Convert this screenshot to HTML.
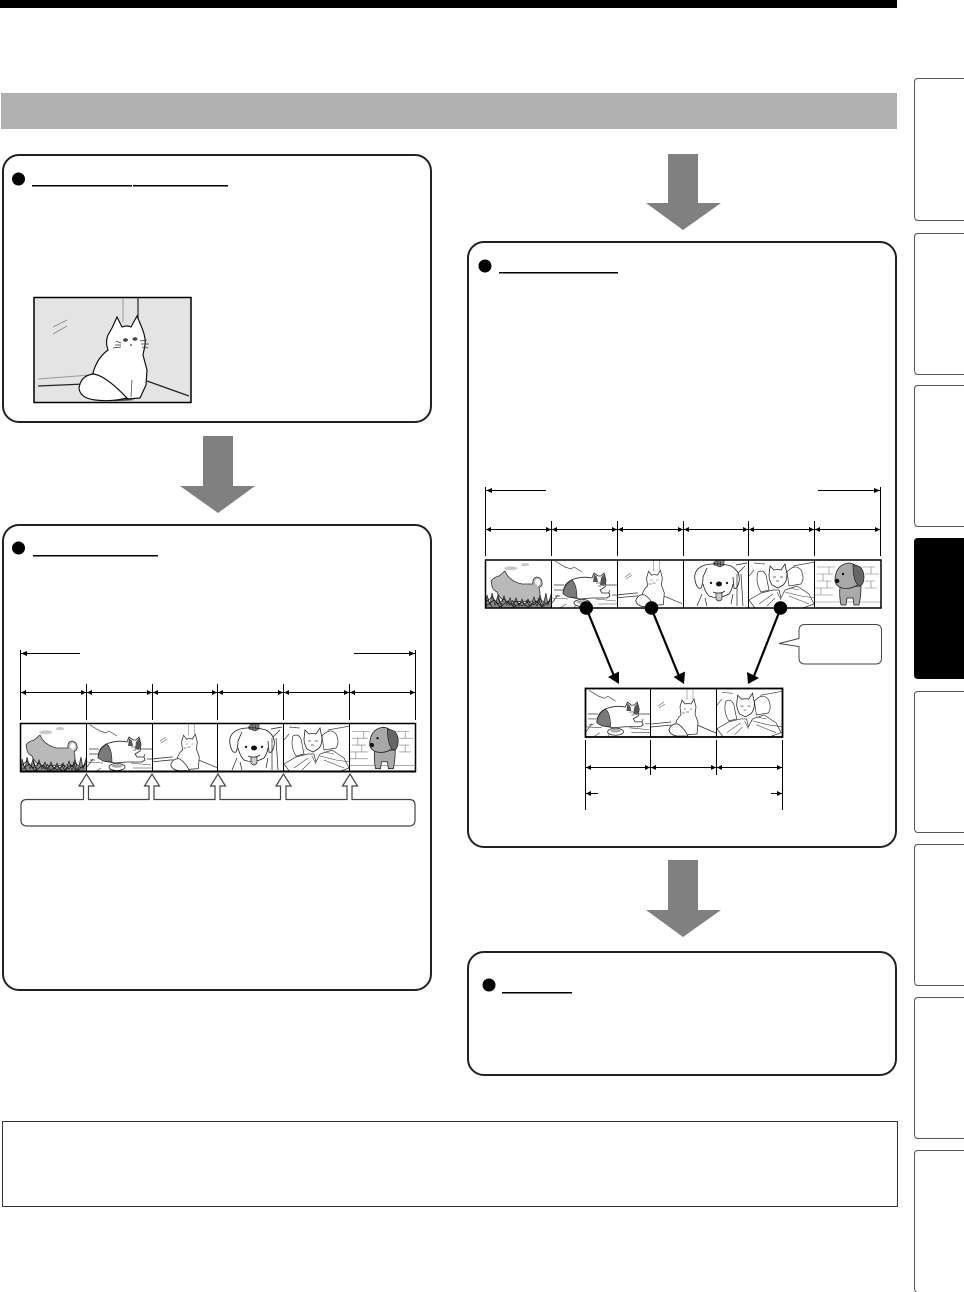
<!DOCTYPE html>
<html><head><meta charset="utf-8"><title>Diagram</title>
<style>html,body{margin:0;padding:0;background:#fff}svg{display:block}</style></head>
<body>
<svg xmlns="http://www.w3.org/2000/svg" width="964" height="1292" viewBox="0 0 964 1292">
<defs>
<symbol id="dog1" viewBox="0 0 66 48">
<path d="M18 8q5-3 12-1q3 2-2 3q-9 1-10-2zM35 4q4-2 8 0q1 2-3 2q-5 1-5-2z" fill="#c8c8c8"/>
<path d="M5 21Q8 17 13 16L19 11L21 15Q26 22 36 24L47 24Q46 18 51 17Q57 18 56 25L53 28Q55 34 53 41L20 42Q13 38 11 32Q6 29 6 26Z" fill="#b9b9b9" stroke="#333" stroke-width=".8"/>
<path d="M49 23Q49 19 52 19Q55 20 54 24L52 26Z" fill="#fff"/>
<path d="M0 48L1 35L4 45L6 33L9 45L12 35L15 45L18 36L21 45L24 38L27 46L30 38L33 46L36 39L39 46L42 39L45 46L48 37L51 46L54 35L57 46L60 33L62 45L66 31V48Z" fill="#888" stroke="#222" stroke-width=".7"/>
<path d="M0 42L6 37L12 44L18 39L24 45L30 41L36 46L42 41L48 45L54 39L60 44L66 38M0 46L8 40L14 47L22 41L28 47L36 42L42 47L50 41L56 47L64 41M2 40L6 47M12 38L16 47M26 40L30 47M40 40L44 47M52 38L56 47" fill="none" stroke="#111" stroke-width=".7"/>
</symbol>
<symbol id="cat2" viewBox="0 0 66 48">
<path d="M3 1L13 7L19 9L22 7L30 12" fill="none" stroke="#444" stroke-width=".7"/>
<path d="M2 25H12M52 25H65M2 30H11M0 43L6 35M58 30L55 37M8 36H3M60 35H66" fill="none" stroke="#333" stroke-width=".7"/>
<path d="M11 33Q12 22 22 19Q32 16 40 18L42 13L46 16L49 16L52 13L54 20L53 27L48 30L50 33L57 33L58 36L55 38L40 38L28 39L16 37Z" fill="#fff" stroke="#222" stroke-width=".8"/>
<path d="M11 34Q12 24 20 20Q25 25 25 38L16 37Z" fill="#7a7a7a" stroke="#222" stroke-width=".6"/>
<path d="M42 14L45 17L46 22L41 22ZM49 18L52 14L54 21L52 26L48 25Z" fill="#555"/>
<path d="M44 23h6M46 26h3" stroke="#555" stroke-width=".7"/>
<path d="M0 38L16 39M14 44L8 48M44 39L64 41M46 44H66M22 48L26 42" stroke="#444" stroke-width=".6" fill="none"/>
<ellipse cx="30" cy="43" rx="8" ry="3.6" fill="#fff" stroke="#222" stroke-width=".8"/>
<ellipse cx="30" cy="42" rx="5.500" ry="1.800" fill="#aaa"/>
</symbol>
<symbol id="cat3" viewBox="0 0 66 48">
<path d="M36 0V11M42 0V10" stroke="#aaa" stroke-width=".9"/>
<path d="M7 17L13 13M8 19L14 15" stroke="#666" stroke-width=".6"/>
<path d="M0 35L20 33M0 38L20 36M46 36L65 44" stroke="#333" stroke-width=".8" fill="none"/>
<path d="M31 11L34 15Q37 14 40 15L43 10L45 18L44 25L47 33L46 45L32 46L24 38Q25 30 30 26L29 18Z" fill="#fff" stroke="#333" stroke-width=".8"/>
<path d="M18 41Q20 34 27 35Q33 39 37 47L26 47Q19 46 18 41Z" fill="#fff" stroke="#333" stroke-width=".8"/>
<path d="M33 20h2M39 20h2M35 23h3M31 24h3" stroke="#666" stroke-width=".7"/>
</symbol>
<symbol id="dog4" viewBox="0 0 66 48">
<path d="M30 4L33 0L41 0L41 5L37 7Z" fill="#888" stroke="#222" stroke-width=".6"/>
<path d="M31 2L32 6M34 1L35 6M37 1L38 6" stroke="#222" stroke-width=".6"/>
<path d="M22 5Q34 2 48 6M20 24Q22 32 26 36Q35 40 46 34Q49 30 50 24" fill="none" stroke="#222" stroke-width=".8"/>
<path d="M22 5Q10 9 12 20Q14 30 18 28Q20 24 20 17L24 8M48 6Q58 12 56 22Q54 30 51 28L50 17" fill="none" stroke="#222" stroke-width=".8"/>
<circle cx="28" cy="23" r="1.200" fill="#222"/><circle cx="44" cy="23" r="1.200" fill="#222"/>
<ellipse cx="36" cy="24" rx="3" ry="2.500" fill="#111"/>
<path d="M30 32Q36 35 42 31" fill="none" stroke="#222" stroke-width=".8"/>
<path d="M33 33H39V39Q36 43 33 39Z" fill="#ccc" stroke="#222" stroke-width=".7"/>
<path d="M53 5L64 3M54 14V46M58 14L60 46M62 6L55 13M48 44L50 34M14 46L19 34M24 46L22 38" stroke="#222" stroke-width=".7" fill="none"/>
</symbol>
<symbol id="cat5" viewBox="0 0 66 48">
<path d="M5 3L16 4M44 6L66 2M0 16L5 10" stroke="#444" stroke-width=".7" fill="none"/>
<path d="M9 12Q14 9 17 15L20 30L12 32Q6 22 9 12ZM38 12Q46 3 52 10Q56 18 52 24L40 26Z" fill="#fff" stroke="#333" stroke-width=".7"/>
<path d="M21 6L25 10Q29 9 32 10L36 4L38 14Q38 22 34 25L29 28L23 25Q20 20 20 15Z" fill="#fff" stroke="#222" stroke-width=".8"/>
<path d="M24 17h3M31 17h3M27 21h3" stroke="#444" stroke-width=".7"/>
<path d="M0 40L12 33L24 30L30 30L32 38L36 30L48 26L60 34L65 44L54 48H6Z" fill="#fff" stroke="#333" stroke-width=".7"/>
<path d="M36 32L52 36L66 38M40 36L60 44M10 44L24 34M18 46L26 38M40 28L50 30M28 32L32 40" stroke="#444" stroke-width=".6" fill="none"/>
</symbol>
<symbol id="dog6" viewBox="0 0 66 48">
<path d="M2 7H20M2 14H18M2 21H16M0 28H18M0 35H18M14 7V14M8 14V21M12 21V28M6 28V35M45 7H60M50 14H64M50 21H60M50 28H62M56 7V14M56 21V28M0 42H66" stroke="#777" stroke-width=".6" fill="none"/>
<path d="M25 27Q24 36 26 45L31 45L32 38L38 38L39 45L44 45Q46 36 46 26Z" fill="#aaa" stroke="#222" stroke-width=".8"/>
<path d="M20 19Q21 5 33 3Q42 3 44 12L44 24Q36 30 27 28Q20 26 20 19Z" fill="#a8a8a8" stroke="#222" stroke-width=".8"/>
<path d="M38 5Q48 5 49 16Q49 26 44 26Q38 22 38 5Z" fill="#666" stroke="#222" stroke-width=".7"/>
<ellipse cx="22" cy="21" rx="2.400" ry="2.200" fill="#111"/><circle cx="28" cy="14" r="1.200" fill="#111"/>
</symbol>
</defs>

<rect width="964" height="1292" fill="#fff"/>
<rect x="0" y="0" width="897" height="8" fill="#000"/>
<rect x="1" y="93" width="896" height="36" fill="#b0b0b0"/>

<!-- side tabs -->
<g fill="#fff" stroke="#555" stroke-width="1">
<path d="M964 78.500H918Q914.500 78.500 914.500 82V216Q914.500 220.500 918 220.500H964"/>
<path d="M964 233.500H918Q914.500 233.500 914.500 237V370Q914.500 374.500 918 374.500H964"/>
<path d="M964 385.500H918Q914.500 385.500 914.500 389V522Q914.500 526.500 918 526.500H964"/>
<path d="M964 691.500H918Q914.500 691.500 914.500 695V828Q914.500 832.500 918 832.500H964"/>
<path d="M964 844.500H918Q914.500 844.500 914.500 848V981Q914.500 985.500 918 985.500H964"/>
<path d="M964 997.500H918Q914.500 997.500 914.500 1001V1134Q914.500 1138.500 918 1138.500H964"/>
<path d="M964 1150.500H918Q914.500 1150.500 914.500 1154V1288Q914.500 1292.500 918 1292.500H964"/>
</g>
<path d="M964 538H918Q914 538 914 542V675Q914 679 918 679H964Z" fill="#000"/>

<!-- panels -->
<g fill="#fff" stroke="#222" stroke-width="2">
<rect x="3" y="155" width="428" height="267" rx="16"/>
<rect x="3" y="525" width="428" height="465" rx="16"/>
<rect x="468" y="242" width="428" height="605" rx="16"/>
<rect x="468" y="952" width="428" height="123" rx="16"/>
</g>
<rect x="2.500" y="1121.500" width="895" height="85" fill="#fff" stroke="#333" stroke-width="1"/>

<!-- big gray arrows -->
<g fill="#808080">
<path d="M203 436H233V486H255L218 513L180 486H203Z"/>
<path d="M668 154H698V203H721L683 230L646 203H668Z"/>
<path d="M668 860H698V910H721L683 937L646 910H668Z"/>
</g>

<!-- title bullets and rules -->
<g fill="#000">
<circle cx="18.500" cy="179" r="6.500"/>
<circle cx="18.500" cy="548" r="6.500"/>
<circle cx="485" cy="266" r="6.500"/>
<circle cx="489" cy="985" r="6.500"/>
<rect x="32" y="185" width="100" height="1.500"/>
<rect x="133" y="185" width="95" height="1.500"/>
<rect x="33" y="555" width="125" height="1.500"/>
<rect x="499" y="272" width="119" height="1.500"/>
<rect x="502" y="992" width="70" height="1.500"/>
</g>

<!-- cat picture -->
<rect x="34" y="297.500" width="157" height="105" fill="#e4e4e4" stroke="#000" stroke-width="1.500"/>
<path d="M123 298V322" stroke="#999" stroke-width="1"/>
<path d="M138 298V322" stroke="#333" stroke-width="1.300"/>
<path d="M53 327L67 320M53 334L67 326" stroke="#888" stroke-width=".8"/>
<path d="M38 379L90 375" stroke="#999" stroke-width="1"/>
<path d="M38 386L85 384" stroke="#222" stroke-width="1.300"/>
<path d="M147 381L189 396" stroke="#222" stroke-width="1.300"/>
<path d="M80 394Q100 404 135 400L100 394Z" fill="#555"/>
<path d="M117 317L122 327Q127 325 131 327L137 316L142 328Q146 338 145 345L143 355L147 370L146 385L140 398L127 399L115 395L100 387L93 373Q97 358 108 350Q105 342 108 335L112 328Z" fill="#fff" stroke="#111" stroke-width="1.200"/>
<path d="M79 388Q81 375 94 374Q106 376 127 398Q112 402 95 400Q80 398 79 388Z" fill="#fff" stroke="#111" stroke-width="1.200"/>
<path d="M132 380L131 397M116 341L121 343M115 345L121 345M113 348L121 347M140 341L147 340M141 344L149 344M142 347L148 348" stroke="#333" stroke-width=".7" fill="none"/>
<ellipse cx="125.500" cy="340" rx="2.500" ry="1.800" fill="#444"/><ellipse cx="135" cy="339" rx="2.500" ry="1.800" fill="#444"/>
<path d="M130 345h2" stroke="#111"/>

<!-- left strip -->
<use href="#dog1" x="21" y="724" width="66" height="48"/>
<use href="#cat2" x="87" y="724" width="66" height="48"/>
<use href="#cat3" x="153" y="724" width="65" height="48"/>
<use href="#dog4" x="218" y="724" width="66" height="48"/>
<use href="#cat5" x="284" y="724" width="66" height="48"/>
<use href="#dog6" x="350" y="724" width="65" height="48"/>
<g fill="none" stroke="#000">
<rect x="20.500" y="723.500" width="395" height="48" stroke-width="1.500"/>
<path d="M20 771.500H416" stroke-width="2"/>
<path d="M86.500 723V772M152.500 723V772M217.500 723V772M283.500 723V772M349.500 723V772" stroke-width="1"/>
<path d="M20.500 650V720M415.500 650V720M86.500 684V720M152.500 684V720M217.500 684V720M283.500 684V720M349.500 684V720" stroke-width="1"/>
<path d="M21 653.500H80M354 653.500H415M21 692.500H415" stroke-width="1"/>
</g>
<g fill="#000">
<path d="M21 653.500L27 651V656ZM415 653.500L409 651V656Z"/>
<path d="M21 692.500L26 690V695ZM86 692.500L81 690V695ZM87 692.500L92 690V695ZM152 692.500L147 690V695ZM153 692.500L158 690V695ZM217 692.500L212 690V695ZM218 692.500L223 690V695ZM283 692.500L278 690V695ZM284 692.500L289 690V695ZM349 692.500L344 690V695ZM350 692.500L355 690V695ZM415 692.500L410 690V695Z"/>
</g>

<!-- callout box with hollow arrows -->
<path d="M27 799.500H83.500V786H79L86.500 774L94 786H88.500V799.500H149V786H144.500L152 774L159.500 786H154V799.500H215V786H210.500L218 774L225.500 786H220V799.500H280.500V786H276L283.500 774L291 786H286V799.500H347V786H342.500L350 774L357.500 786H352V799.500H409Q415 799.500 415 805V820Q415 826 409 826H27Q21 826 21 820V805Q21 799.500 27 799.500Z" fill="#fff" stroke="#444" stroke-width="1.200"/>

<!-- right strip -->
<use href="#dog1" x="486" y="560" width="66" height="48"/>
<use href="#cat2" x="552" y="560" width="66" height="48"/>
<use href="#cat3" x="618" y="560" width="65" height="48"/>
<use href="#dog4" x="683" y="560" width="66" height="48"/>
<use href="#cat5" x="749" y="560" width="66" height="48"/>
<use href="#dog6" x="815" y="560" width="66" height="48"/>
<g fill="none" stroke="#000">
<rect x="485.500" y="560" width="395.500" height="48" stroke-width="1.500"/>
<path d="M551.500 560V608M617.500 560V608M683.500 560V608M748.500 560V608M814.500 560V608" stroke-width="1"/>
<path d="M485.500 487V556M880.500 487V556M551.500 521V556M617.500 521V556M683.500 521V556M748.500 521V556M814.500 521V556" stroke-width="1"/>
<path d="M486 490.500H546M818 490.500H880M486 529.500H880" stroke-width="1"/>
</g>
<g fill="#000">
<path d="M486 490.500L492 488V493ZM880 490.500L874 488V493Z"/>
<path d="M486 529.500L491 527V532ZM551 529.500L546 527V532ZM552 529.500L557 527V532ZM617 529.500L612 527V532ZM618 529.500L623 527V532ZM683 529.500L678 527V532ZM684 529.500L689 527V532ZM748 529.500L743 527V532ZM749 529.500L754 527V532ZM814 529.500L809 527V532ZM815 529.500L820 527V532ZM880 529.500L875 527V532Z"/>
</g>

<!-- selection arrows -->
<g stroke="#000" stroke-width="2.200" fill="none">
<path d="M587 610L614 676M652 610L679 676M780 610L754 676"/>
</g>
<g fill="#000">
<circle cx="586.300" cy="608" r="6.800"/><circle cx="651.500" cy="608" r="6.800"/><circle cx="780.500" cy="608" r="6.800"/>
<path d="M619 684L608 677L619 671.500Z"/>
<path d="M684 684L673.500 677L685 671.500Z"/>
<path d="M748 684L747 672L759 678Z"/>
</g>

<!-- speech bubble -->
<path d="M805 624.500H875.500Q881.500 624.500 881.500 630.500V658Q881.500 664 875.500 664H805Q799 664 799 658V646.500L779 643.500L799 638.500V630.500Q799 624.500 805 624.500Z" fill="#fff" stroke="#444" stroke-width="1"/>

<!-- bottom strip -->
<use href="#cat2" x="586" y="689" width="65" height="48"/>
<use href="#cat3" x="651" y="689" width="66" height="48"/>
<use href="#cat5" x="717" y="689" width="65" height="48"/>
<g fill="none" stroke="#000">
<rect x="585.500" y="688.500" width="197" height="48.500" stroke-width="1.800"/>
<path d="M650.500 689V737M716.500 689V737" stroke-width="1"/>
<path d="M585.500 740V810M782.500 740V810M650.500 740V775M716.500 740V775" stroke-width="1"/>
<path d="M586 767.500H782M586 793.500H598M771 793.500H782" stroke-width="1"/>
</g>
<g fill="#000">
<path d="M586 767.500L591 765V770ZM650 767.500L645 765V770ZM651 767.500L656 765V770ZM716 767.500L711 765V770ZM717 767.500L722 765V770ZM782 767.500L777 765V770Z"/>
<path d="M586 793.500L591 791V796ZM782 793.500L777 791V796Z"/>
</g>
</svg>
</body></html>
